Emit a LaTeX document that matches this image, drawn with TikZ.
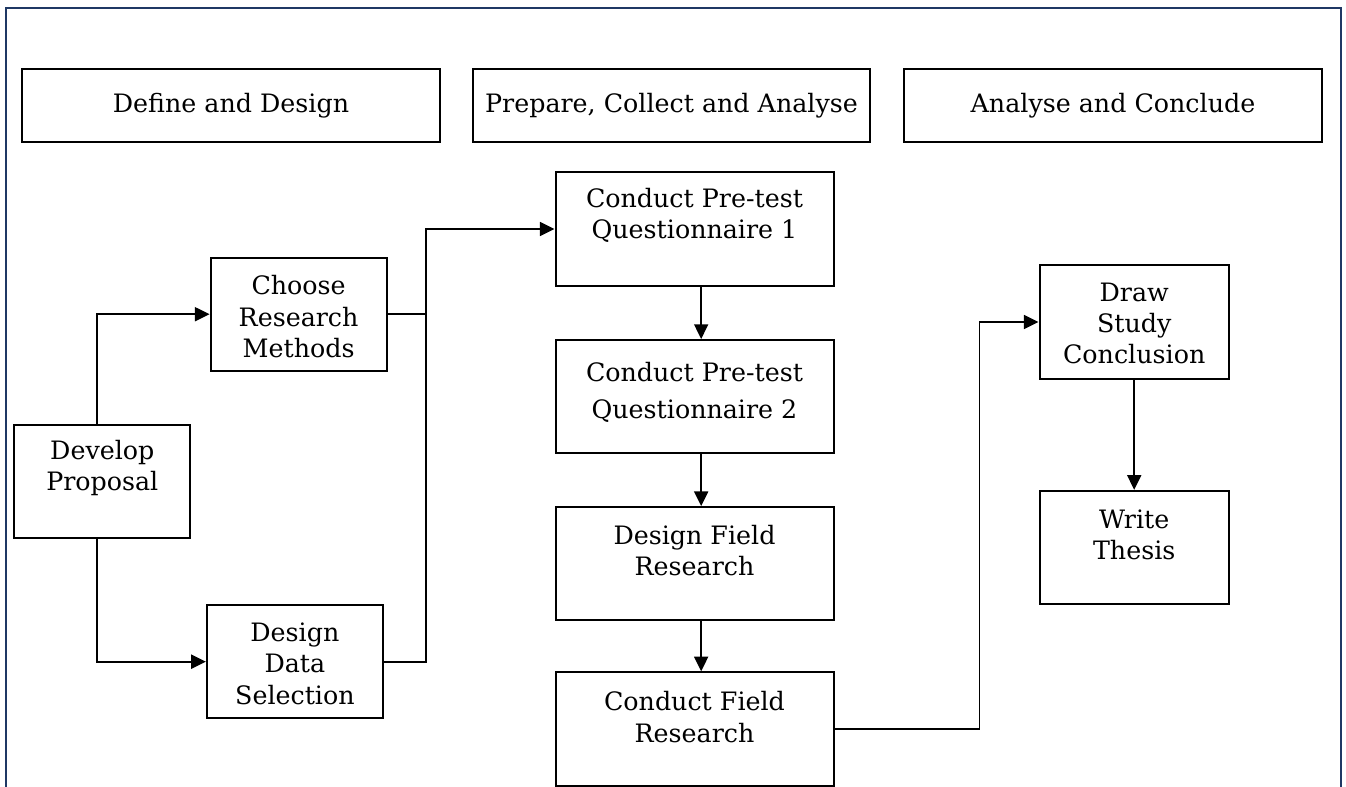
\documentclass[tikz,border=0pt]{standalone}
\usepackage{fontspec}
\setmainfont{DejaVu Serif}
\usetikzlibrary{arrows.meta,calc}
\definecolor{framenavy}{RGB}{31,56,100}
\tikzset{
  box/.style={draw=black, line width=1.5pt, rectangle, inner sep=0pt},
  txt/.style={align=center, font=\fontsize{19}{23.5}\selectfont, inner sep=0pt},
  conn/.style={draw=black, line width=1.2pt},
  arr/.style={conn, -{Triangle[length=11pt,width=10.5pt]}},
}
\begin{document}
\begin{tikzpicture}[x=0.75pt,y=-0.75pt]
\useasboundingbox (0,0) rectangle (1346,787);
\clip (0,0) rectangle (1346,787);
\fill[white] (0,0) rectangle (1346,787);
\draw[framenavy, line width=1.8pt] (6,8) rectangle (1341,820);
% header boxes
\node[box, minimum width=313.5pt, minimum height=54.75pt] (h1) at (231,105.5) {};
\node[box, minimum width=297.75pt, minimum height=54.75pt] (h2) at (671.5,105.5) {};
\node[box, minimum width=313.5pt, minimum height=54.75pt] (h3) at (1113,105.5) {};
\node[txt] (h1t) at (h1.center) {Define and Design};
\node[txt] (h2t) at (h2.center) {Prepare, Collect and Analyse};
\node[txt] (h3t) at (h3.center) {Analyse and Conclude};
% left column
\node[box, minimum width=132pt, minimum height=85pt] (crm) at (298.6,314.2) {};
\node[txt] (crmt) at (298.6,316.7) {Choose\\Research\\Methods};
\node[box, minimum width=132pt, minimum height=85pt] (dp) at (102.3,481.7) {};
\node[txt] (dpt) at (102.3,468.3) {Develop\\Proposal};
\node[box, minimum width=132pt, minimum height=85pt] (dds) at (294.9,661.7) {};
\node[txt] (ddst) at (294.9,663.7) {Design\\Data\\Selection};
% middle column
\node[box, minimum width=208.5pt, minimum height=85pt] (cq1) at (694.5,229) {};
\node[txt] (cq1t) at (694.5,215.3) {Conduct Pre-test\\Questionnaire 1};
\node[box, minimum width=208.5pt, minimum height=85pt] (cq2) at (694.5,396.7) {};
\node[txt, font=\fontsize{19}{27.5}\selectfont] (cq2t) at (694.5,392.5) {Conduct Pre-test\\Questionnaire 2};
\node[box, minimum width=208.5pt, minimum height=85pt] (dfr) at (694.5,563.8) {};
\node[txt] (dfrt) at (694.5,550.5) {Design Field\\Research};
\node[box, minimum width=208.5pt, minimum height=85pt] (cfr) at (694.5,729) {};
\node[txt] (cfrt) at (694.5,717) {Conduct Field\\Research};
% right column
\node[box, minimum width=142pt, minimum height=85pt] (dsc) at (1134.2,322) {};
\node[txt] (dsct) at (1134.2,323.5) {Draw\\Study\\Conclusion};
\node[box, minimum width=142pt, minimum height=85pt] (wt) at (1134.2,547.5) {};
\node[txt] (wtt) at (1134.2,534.7) {Write\\Thesis};
% routing coordinates
\coordinate (bus) at (426,229);
\coordinate (bend) at (979.5,0);
% connectors
\draw[arr] ([xshift=-4pt]dp.north) |- (crm.west);
\draw[arr] ([xshift=-4pt]dp.south) |- (dds.west);
\draw[conn] (crm.east) -- (crm.east -| bus);
\draw[arr] (dds.east) -| (bus) -- (cq1.west);
\draw[arr] ([xshift=5pt]cq1.south) -- ([xshift=5pt]cq2.north);
\draw[arr] ([xshift=5pt]cq2.south) -- ([xshift=5pt]dfr.north);
\draw[arr] ([xshift=5pt]dfr.south) -- ([xshift=5pt]cfr.north);
\draw[arr] (cfr.east) -- (cfr.east -| bend) |- (dsc.west);
\draw[arr] (dsc.south) -- (wt.north);
\end{tikzpicture}
\end{document}
